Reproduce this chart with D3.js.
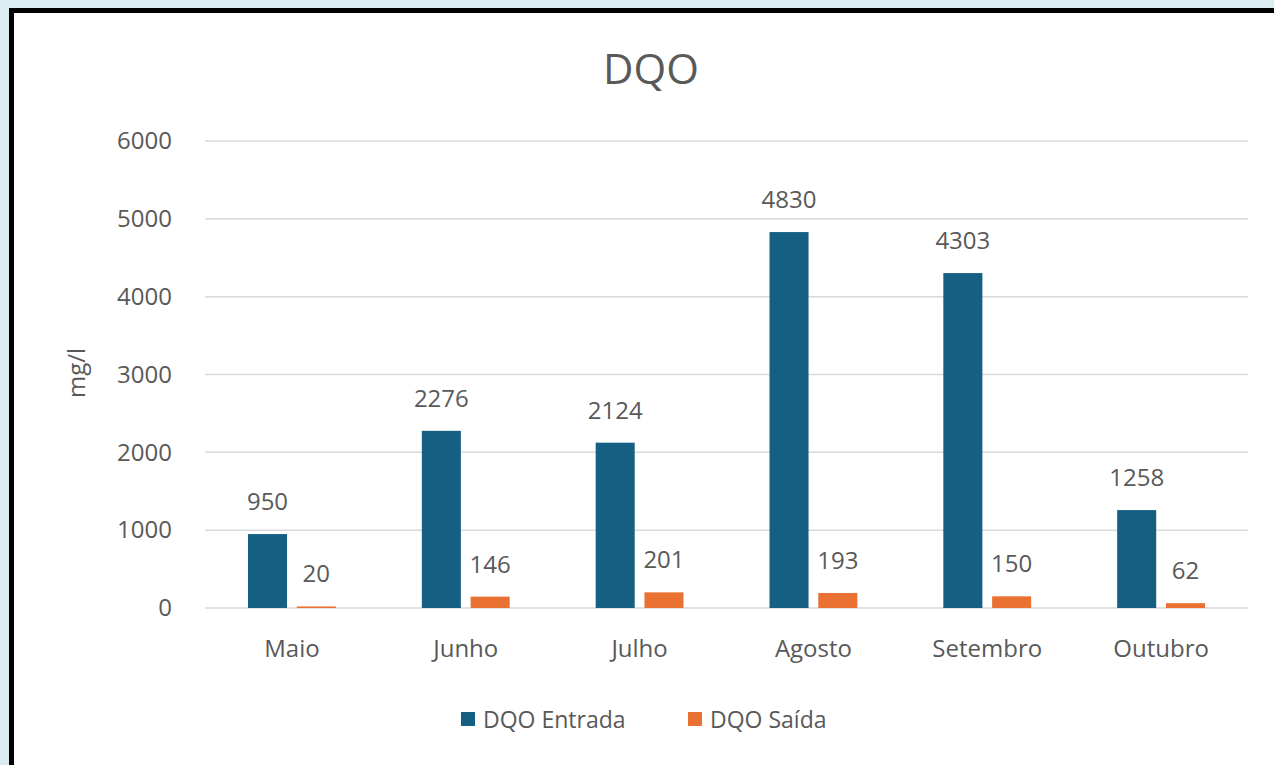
<!DOCTYPE html>
<html>
<head>
<meta charset="utf-8">
<script src="https://cdn.jsdelivr.net/npm/d3@7/dist/d3.min.js"></script>
<style>
    html, body { margin: 0; padding: 0; background: #daedf3; }
    svg { display: block; }
    text { font-family: "Open Sans", "Noto Sans", sans-serif; fill: #595959; }
</style>
</head>
<body>
<div id="chart"></div>
<script>
// data
const months = ["Maio", "Junho", "Julho", "Agosto", "Setembro", "Outubro"];
const series = ["DQO Entrada", "DQO Saída"];
const entrada = [950, 2276, 2124, 4830, 4303, 1258];
const saida = [20, 146, 201, 193, 150, 62];
const yTicks = [0, 1000, 2000, 3000, 4000, 5000, 6000];

const colors = ["#156082", "#e97132"];

let width = 1274,
    height = 765;

let svg = d3.select("#chart")
    .append("svg")
    .attr("width", width)
    .attr("height", height);

// frame: thick black border on top/left, white chart area
svg.append("rect")
    .attr("x", 9).attr("y", 8)
    .attr("width", width).attr("height", height)
    .attr("fill", "#000");
svg.append("rect")
    .attr("x", 14).attr("y", 13)
    .attr("width", width).attr("height", height)
    .attr("fill", "#fff");

let x0 = d3.scaleBand()
    .domain(months)
    .range([205, 1248]);

let groupPad = 43;
let x1 = d3.scaleBand()
    .domain(series)
    .range([groupPad, x0.bandwidth() - groupPad])
    .paddingInner(0.2);

let y = d3.scaleLinear()
    .domain([0, 6000])
    .range([608, 141]);

// gridlines
svg.append("g")
    .selectAll("line")
    .data(yTicks)
    .enter().append("line")
    .attr("x1", 205)
    .attr("x2", 1248)
    .attr("y1", d => y(d))
    .attr("y2", d => y(d))
    .attr("stroke", "#d9d9d9")
    .attr("stroke-width", 1.5);

// y axis labels
let yAxis = svg.append("g")
    .attr("transform", "translate(172,0)")
    .call(d3.axisLeft(y).tickValues(yTicks).tickFormat(d3.format("d")).tickSize(0).tickPadding(0));
yAxis.select(".domain").remove();
yAxis.selectAll("text")
    .attr("font-size", 24)
    .attr("fill", "#595959")
    .style("font-family", "'Open Sans', sans-serif");

// x axis labels
let xAxis = svg.append("g")
    .attr("transform", "translate(0," + y(0) + ")")
    .call(d3.axisBottom(x0).tickSize(0).tickPadding(32));
xAxis.select(".domain").remove();
xAxis.selectAll("text")
    .attr("font-size", 24)
    .attr("fill", "#595959")
    .style("font-family", "'Open Sans', sans-serif");

// bars
let rows = months.map((m, i) => ({ month: m, values: [entrada[i], saida[i]] }));

let groups = svg.selectAll(".grp")
    .data(rows)
    .enter().append("g")
    .attr("class", "grp")
    .attr("transform", d => "translate(" + x0(d.month) + ",0)");

groups.selectAll("rect")
    .data(d => d.values.map((v, k) => ({ key: series[k], value: v, k: k })))
    .enter().append("rect")
    .attr("x", d => x1(d.key))
    .attr("width", x1.bandwidth())
    .attr("y", d => y(d.value))
    .attr("height", d => y(0) - y(d.value))
    .attr("fill", d => colors[d.k]);

groups.selectAll("text.lbl")
    .data(d => d.values.map((v, k) => ({ key: series[k], value: v, k: k })))
    .enter().append("text")
    .attr("class", "lbl")
    .attr("x", d => x1(d.key) + x1.bandwidth() / 2)
    .attr("y", d => y(d.value) - 24)
    .attr("text-anchor", "middle")
    .attr("font-size", 24)
    .text(d => d.value);

// title
svg.append("text")
    .attr("x", 651)
    .attr("y", 84)
    .attr("text-anchor", "middle")
    .attr("font-size", 42)
    .text("DQO");

// y axis title
svg.append("text")
    .attr("transform", "translate(85,373) rotate(-90)")
    .attr("text-anchor", "middle")
    .attr("font-size", 24)
    .text("mg/l");

// legend
let legend = svg.append("g")
    .attr("transform", "translate(461,712)");
let legendX = [0, 227];
series.forEach((s, k) => {
    let g = legend.append("g").attr("transform", "translate(" + legendX[k] + ",0)");
    g.append("rect")
        .attr("width", 14).attr("height", 14)
        .attr("fill", colors[k]);
    g.append("text")
        .attr("x", 22)
        .attr("y", 16)
        .attr("font-size", 23)
        .text(s);
});
</script>
</body>
</html>
